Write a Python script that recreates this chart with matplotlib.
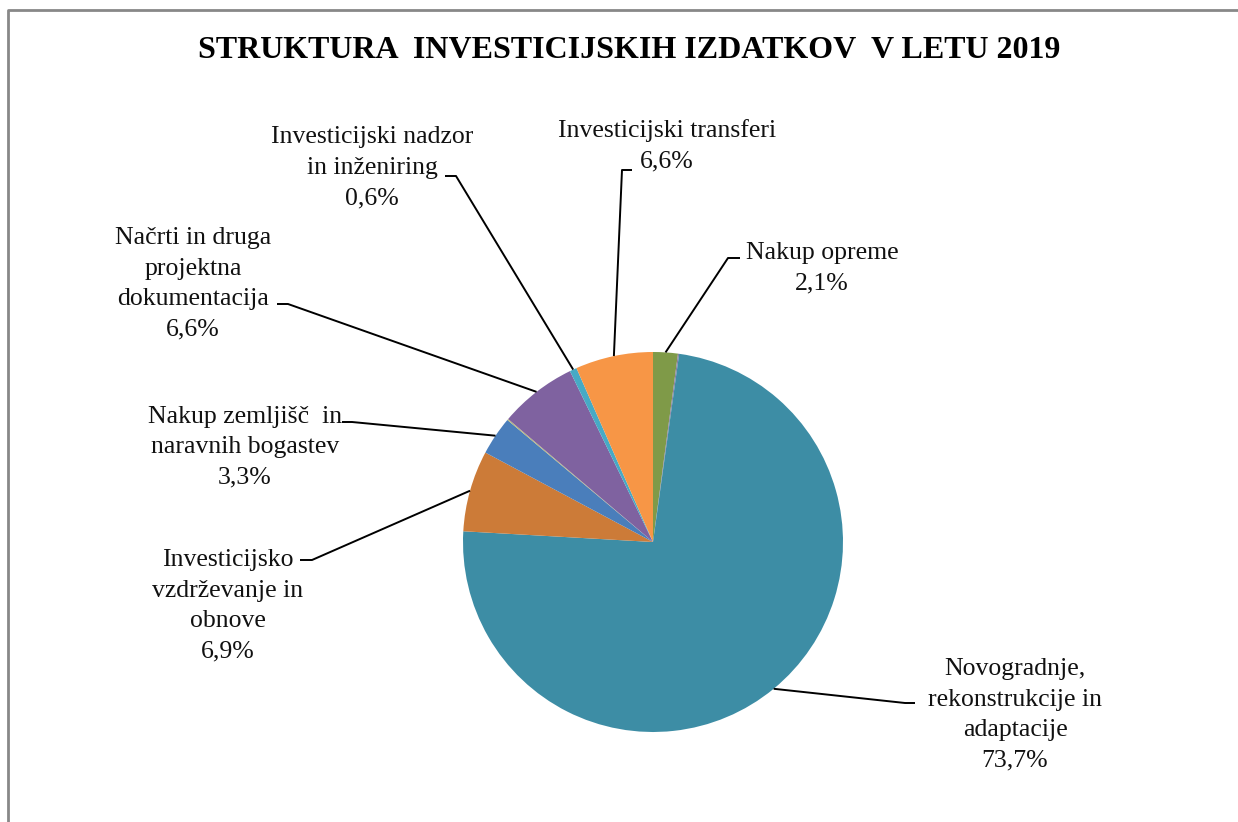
import numpy as np
import matplotlib.pyplot as plt

# data (clockwise from the top)
labels = ["Nakup opreme", "", "Novogradnje,\nrekonstrukcije in\nadaptacije",
          "Investicijsko\nvzdrževanje in\nobnove", "Nakup zemljišč  in\nnaravnih bogastev",
          "", "Načrti in druga\nprojektna\ndokumentacija",
          "Investicijski nadzor\nin inženiring", "Investicijski transferi"]
shares = [2.1, 0.1, 73.7, 6.9, 3.3, 0.1, 6.6, 0.6, 6.6]
colors = ["#7f9a48", "#8a7aa0", "#3d8da5", "#cc7b38", "#4a7ebb",
          "#b8b878", "#7f62a0", "#46aac5", "#f79646"]

W, H = 1238, 822
# label centres and elbow of leader line, in pixels (x, y from top)
label_pos = [(822, 268), None, (1015, 715), (228, 606), (245, 447),
             None, (193, 284), (372, 168), (667, 146)]
elbows = [(728, 258), None, (905, 703), (312, 560), (352, 422),
          None, (288, 304), (456, 176), (622, 170)]
ticks = [(740, 258), None, (915, 703), (300, 560), (342, 422),
         None, (277, 304), (445, 176), (632, 170)]

fig = plt.figure(figsize=(W / 100, H / 100), dpi=100)
ax = fig.add_axes([0, 0, 1, 1])
ax.set_xlim(0, W)
ax.set_ylim(0, H)
ax.set_aspect("equal")
ax.axis("off")

cx, cy, r = 653, H - 542, 190
ax.pie(shares, colors=colors, startangle=90, counterclock=False,
       center=(cx, cy), radius=r,
       wedgeprops=dict(linewidth=0))
ax.set_xlim(0, W)
ax.set_ylim(0, H)

font = "Liberation Serif"
total = sum(shares)
cum = 0
for lab, s, pos, elb, tk in zip(labels, shares, label_pos, elbows, ticks):
    mid = (cum + s / 2) / total * 2 * np.pi
    cum += s
    if pos is None:
        continue
    x0 = cx + r * np.sin(mid)
    y0 = cy + r * np.cos(mid)
    ax.plot([x0, elb[0], tk[0]], [y0, H - elb[1], H - tk[1]],
            color="black", lw=1.4, solid_capstyle="butt")
    txt = lab + "\n" + f"{s:.1f}%".replace(".", ",")
    ax.text(pos[0], H - pos[1], txt, ha="center", va="center",
            fontsize=18.5, family=font, linespacing=1.5, color="#111111")

ax.text(629, H - 51, "STRUKTURA  INVESTICIJSKIH IZDATKOV  V LETU 2019",
        ha="center", va="center", fontsize=23, fontweight="bold", family=font)

# outer frame (cropped on right and bottom)
ax.plot([8, 8, W], [0, H - 10, H - 10], color="#888888", lw=2)

fig.savefig("out.png", dpi=100)
